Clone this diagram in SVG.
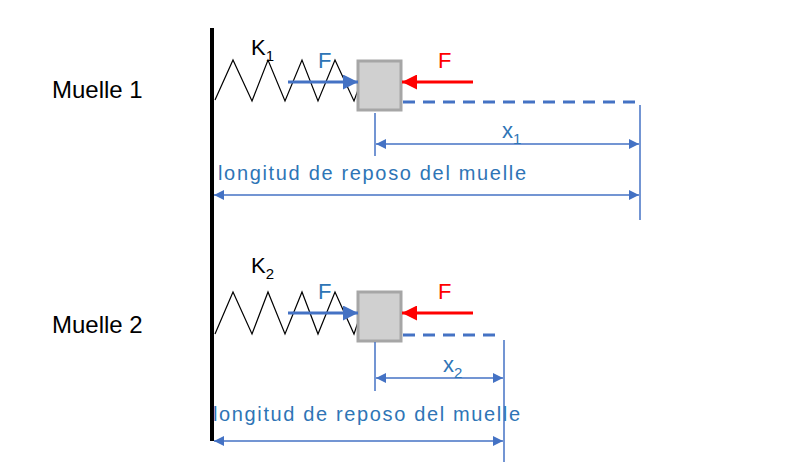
<svg xmlns="http://www.w3.org/2000/svg" width="800" height="469" viewBox="0 0 800 469">
<defs>
<style>
.t{font-family:"Liberation Sans",Arial,sans-serif}
.blk{fill:#000}.bl{fill:#2e75b6}.rd{fill:#ff0000}
.spr{fill:none;stroke:#000;stroke-width:1.2}
.box{fill:#d0d0d0;stroke:#a6a6a6;stroke-width:3}
.ln{stroke:#4472c4;stroke-width:1.5;fill:none}
.dash{stroke:#4472c4;stroke-width:3;stroke-dasharray:12 8;fill:none}
</style>
<marker id="ah" viewBox="0 0 10 10" refX="10" refY="5" markerWidth="12" markerHeight="10" markerUnits="userSpaceOnUse" orient="auto-start-reverse"><path d="M0,0L10,5L0,10z" fill="#4472c4"/></marker>
<marker id="ahb" viewBox="0 0 10 10" refX="10" refY="5" markerWidth="5" markerHeight="5" orient="auto"><path d="M0,0L10,5L0,10z" fill="#4472c4"/></marker>
<marker id="ahr" viewBox="0 0 10 10" refX="10" refY="5" markerWidth="5" markerHeight="5" orient="auto"><path d="M0,0L10,5L0,10z" fill="#ff0000"/></marker>
</defs>
<rect width="800" height="469" fill="#fff"/>
<g id="wall"><line x1="212" y1="28" x2="212" y2="441" stroke="#000" stroke-width="4"/></g>
<g id="labels">
<text class="t blk" x="52" y="98" font-size="24">Muelle 1</text>
<text class="t blk" x="52" y="333" font-size="24">Muelle 2</text>
</g>
<g id="spring1">
<polyline class="spr" points="215,100 233,60 252,101 268,60 285,101 302,60 318,101 335,60 354,101 358,90"/>
<text class="t blk" x="251" y="55" font-size="22">K<tspan font-size="15" dy="6">1</tspan></text>
</g>
<g id="block1"><rect class="box" x="358" y="61" width="43" height="49"/></g>
<g id="spring2">
<polyline class="spr" points="215,334 233,292 252,334 268,292 285,334 302,292 318,334 335,292 354,334 358,322"/>
<text class="t blk" x="251" y="273" font-size="22">K<tspan font-size="15" dy="6">2</tspan></text>
</g>
<g id="block2"><rect class="box" x="358" y="292" width="43" height="49"/></g>
<g id="connectors">
<line x1="288" y1="82" x2="358" y2="82" stroke="#4472c4" stroke-width="3" marker-end="url(#ahb)"/>
<line x1="473" y1="82" x2="402" y2="82" stroke="#ff0000" stroke-width="3" marker-end="url(#ahr)"/>
<line class="dash" x1="403" y1="102" x2="640" y2="102"/>
<line class="ln" x1="640" y1="105" x2="640" y2="220"/>
<line class="ln" x1="375" y1="113" x2="375" y2="156"/>
<line class="ln" x1="376" y1="144" x2="639" y2="144" marker-start="url(#ah)" marker-end="url(#ah)"/>
<line class="ln" x1="214" y1="195" x2="639" y2="195" marker-start="url(#ah)" marker-end="url(#ah)"/>
<line x1="288" y1="313" x2="358" y2="313" stroke="#4472c4" stroke-width="3" marker-end="url(#ahb)"/>
<line x1="473" y1="313" x2="402" y2="313" stroke="#ff0000" stroke-width="3" marker-end="url(#ahr)"/>
<line class="dash" x1="403" y1="335" x2="503" y2="335"/>
<line class="ln" x1="504" y1="340" x2="504" y2="462"/>
<line class="ln" x1="375" y1="342" x2="375" y2="391"/>
<line class="ln" x1="376" y1="378" x2="503" y2="378" marker-start="url(#ah)" marker-end="url(#ah)"/>
<line class="ln" x1="214" y1="441" x2="503" y2="441" marker-start="url(#ah)" marker-end="url(#ah)"/>
</g>
<g id="texts">
<text class="t bl" x="318" y="68" font-size="22">F</text>
<text class="t rd" x="438" y="68" font-size="22">F</text>
<text class="t bl" x="502" y="138" font-size="22">x<tspan font-size="15" dy="6">1</tspan></text>
<text class="t bl" x="218" y="180" font-size="20" textLength="308">longitud de reposo del muelle</text>
<text class="t bl" x="318" y="299" font-size="22">F</text>
<text class="t rd" x="438" y="299" font-size="22">F</text>
<text class="t bl" x="443" y="372" font-size="22">x<tspan font-size="15" dy="6">2</tspan></text>
<text class="t bl" x="213" y="421" font-size="20" textLength="307">longitud de reposo del muelle</text>
</g>
</svg>
